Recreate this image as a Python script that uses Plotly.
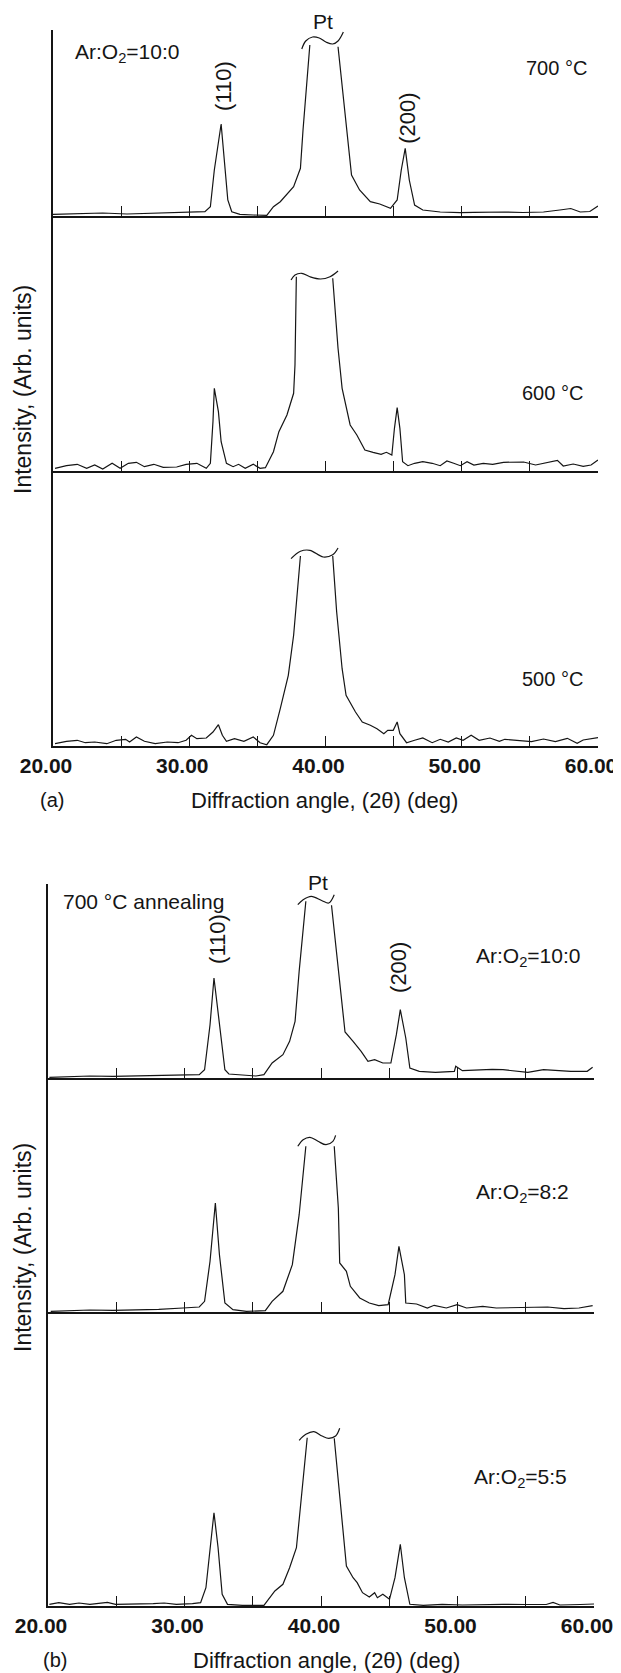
import plotly.graph_objects as go

# The page body adds an 8 px margin, so the figure is 8 px smaller on each axis
# and every reference pixel position is shifted by OFF.
W_FIG, H_FIG, OFF = 613, 1665, 8

# ---------------- data (2-theta in deg, intensity in arb. units) ----------------
# None marks the clipped (broken) top of the off-scale Pt peak.
# Panel (a): Ar:O2 = 10:0, different annealing temperatures
A700_X = [20.0, 21.97, 23.65, 25.43, 27.10, 28.78, 30.26, 31.15, 31.55, 31.84, 32.34, 32.53, 32.83, 33.12,
          33.72, 34.70, 35.69, 36.18, 36.68, 37.66, 38.16, 38.35, 38.85, None, 40.92, 41.31, 41.91, 42.50,
          43.29, 43.98, 44.77, 45.26, 45.56, 45.85, 46.15, 46.54, 47.14, 48.42, 49.90, 50.89, 52.07, 53.16,
          54.5, 56.0, 57.2, 58.0, 58.7, 59.4, 60.0]
A700_I = [1.7, 2.3, 3.0, 2.0, 2.7, 3.0, 3.7, 4.3, 9.3, 46.0, 92.0, 63.0, 16.0, 4.3,
          1.7, 1.0, 0.7, 9.3, 14.3, 29.3, 47.7, 86.0, 171.0, None, 169.3, 119.0, 41.0, 26.0,
          14.3, 12.0, 7.7, 16.0, 46.0, 67.7, 36.0, 11.0, 6.0, 4.0, 3.3, 3.7, 4.0, 4.0,
          3.5, 4.0, 6.0, 7.5, 4.0, 4.5, 10.0]
A700_BRK_X = [38.26, 38.55, 39.05, 39.54, 40.03, 40.53, 40.92, 41.31]
A700_BRK_I = [167.0, 175.0, 179.0, 178.0, 174.0, 172.0, 175.0, 184.0]

A600_X = [20.15, 20.99, 21.78, 22.47, 23.06, 23.65, 24.34, 24.93, 25.53, 26.12, 26.71, 27.40, 28.09, 29.08,
          29.77, 30.56, 31.25, 31.55, 31.74, 31.84, 32.14, 32.34, 32.73, 33.22, 33.62, 34.11, 34.70, 35.20,
          35.59, 36.18, 36.58, 37.17, 37.66, 37.76, 37.86, None, 40.53, 40.92, 41.22, 41.81, 42.30, 42.89,
          43.49, 44.08, 44.47, 44.87, 45.06, 45.26, 45.46, 45.66, 46.05, 46.54, 47.14, 47.83, 48.42, 48.91,
          49.41, 49.90, 50.39, 50.89, 51.58, 52.27, 53.06, 54.54, 55.42, 57.02, 57.45, 58.18, 58.91, 59.49,
          60.0]
A600_I = [2.7, 5.3, 6.7, 2.7, 6.0, 2.0, 7.7, 2.7, 7.7, 8.7, 4.3, 6.7, 3.7, 4.0,
          6.7, 7.7, 2.7, 7.7, 49.3, 82.7, 59.3, 29.3, 7.7, 4.3, 6.7, 2.7, 6.7, 2.7,
          3.3, 19.3, 39.3, 56.0, 77.7, 106.0, 194.3, None, 192.7, 122.7, 82.7, 46.0, 36.0, 21.0,
          18.7, 16.7, 18.7, 16.0, 42.7, 63.3, 42.7, 9.3, 5.3, 7.7, 9.3, 7.7, 5.3, 10.0,
          7.7, 5.3, 9.3, 6.0, 7.7, 6.7, 8.7, 9.0, 6.0, 10.7, 5.0, 7.0, 4.7, 6.0,
          11.0]
A600_BRK_X = [37.47, 37.76, 38.26, 38.85, 39.64, 40.33, 40.92]
A600_BRK_I = [191.0, 196.0, 197.7, 194.3, 192.0, 194.3, 200.0]

A500_X = [20.15, 20.99, 21.78, 22.37, 23.06, 23.95, 24.64, 25.33, 25.62, 26.12, 26.71, 27.50, 28.39, 29.18,
          29.77, 30.16, 30.56, 31.25, 31.74, 32.14, 32.43, 32.73, 33.32, 34.01, 34.70, 35.20, 35.69, 36.18,
          36.68, 37.27, 37.66, 37.86, 38.16, None, 40.53, 40.82, 41.22, 41.51, 42.20, 42.70, 43.29, 43.78,
          44.28, 44.57, 44.97, 45.26, 45.46, 45.95, 46.54, 47.14, 47.83, 48.42, 49.01, 49.60, 50.10, 50.69,
          51.28, 52.07, 52.76, 53.16, 55.12, 56.0, 56.87, 57.75, 58.47, 58.91, 60.0]
A500_I = [2.3, 4.7, 5.7, 3.3, 4.0, 2.3, 5.7, 6.7, 4.0, 9.0, 4.7, 2.3, 4.0, 3.3,
          5.7, 10.7, 7.3, 8.0, 14.0, 21.3, 10.7, 4.7, 7.3, 4.7, 9.0, 3.3, 1.3, 10.7,
          37.3, 70.7, 110.7, 144.0, 190.0, None, 190.0, 134.0, 77.3, 50.7, 34.0, 24.0, 20.7, 17.3,
          12.3, 15.7, 15.7, 24.0, 12.3, 3.3, 5.7, 8.0, 3.3, 6.7, 4.0, 8.0, 5.7, 10.7,
          5.7, 8.0, 4.7, 6.7, 4.3, 7.0, 4.3, 7.7, 2.7, 6.0, 8.3]
A500_BRK_X = [37.47, 38.16, 38.85, 39.83, 40.53, 40.92]
A500_BRK_I = [187.3, 194.7, 195.7, 189.0, 191.3, 198.0]

# Panel (b): 700 degC annealing, different Ar:O2 ratios
B100_X = [20.1, 21.58, 23.07, 24.75, 26.43, 28.11, 29.89, 31.08, 31.47, 31.87, 32.16, 32.56, 32.96, 33.25,
          34.24, 35.23, 35.82, 36.42, 37.21, 37.70, 38.10, 38.40, 38.89, None, 40.77, 41.07, 41.37, 41.76,
          42.35, 42.94, 43.44, 43.93, 44.53, 45.12, 45.52, 45.81, 46.21, 46.51, 47.20, 48.38, 49.77, 49.87,
          50.36, 51.65, 52.54, 53.33, 55.15, 56.3, 57.2, 58.3, 59.5, 59.9]
B100_I = [0.7, 1.3, 2.0, 1.7, 2.0, 2.7, 3.3, 3.3, 8.3, 53.3, 100.0, 53.3, 8.3, 4.0,
          2.7, 2.0, 3.3, 15.0, 23.3, 36.7, 56.7, 106.7, 176.7, None, 172.7, 133.3, 90.0, 46.0,
          36.7, 26.7, 16.7, 18.3, 15.0, 15.0, 43.3, 68.3, 40.0, 10.0, 6.7, 5.7, 6.7, 11.7,
          7.3, 8.0, 8.7, 8.3, 5.7, 8.3, 7.3, 6.7, 6.7, 10.7]
B100_BRK_X = [38.30, 38.69, 39.29, 40.08, 40.57, 40.97]
B100_BRK_I = [173.3, 178.3, 181.7, 177.3, 175.0, 183.3]

B82_X = [20.2, 21.58, 23.07, 24.75, 26.43, 28.11, 29.89, 31.08, 31.47, 31.87, 32.26, 32.56, 32.96, 33.55,
         34.54, 35.23, 35.92, 36.42, 37.21, 37.90, 38.40, 38.89, None, 40.97, 41.27, 41.37, 41.86, 42.15,
         42.84, 43.54, 44.23, 44.92, 45.42, 45.71, 46.11, 46.21, 47.00, 47.79, 48.29, 49.18, 49.97, 50.66,
         51.85, 52.84, 55.4, 56.6, 57.8, 58.9, 59.9]
B82_I = [0.7, 1.3, 2.0, 1.7, 2.0, 2.7, 4.0, 5.0, 10.7, 50.7, 109.0, 57.3, 9.0, 2.3,
         0.7, 1.3, 1.3, 10.7, 20.7, 47.3, 97.3, 165.7, None, 165.7, 104.0, 49.0, 40.7, 25.7,
         14.0, 9.0, 6.3, 7.3, 37.3, 65.7, 37.3, 9.0, 8.0, 4.0, 6.7, 4.0, 7.3, 4.0,
         5.7, 4.0, 5.0, 5.0, 3.3, 4.0, 6.3]
B82_BRK_X = [38.30, 38.69, 39.19, 39.78, 40.37, 40.87, 41.07]
B82_BRK_I = [165.7, 172.3, 174.7, 170.7, 167.3, 170.7, 176.7]

B55_X = [20.1, 20.79, 21.58, 22.27, 23.07, 23.76, 24.35, 24.95, 26.43, 27.71, 28.51, 29.40, 30.58, 31.18,
         31.57, 31.87, 32.16, 32.46, 32.76, 33.15, 34.24, 35.82, 36.22, 36.62, 37.21, 37.70, 38.20, 38.59,
         38.99, None, 40.97, 41.37, 41.86, 42.35, 42.65, 43.04, 43.54, 43.93, 44.13, 44.53, 45.02, 45.42,
         45.81, 46.11, 46.51, 47.49, 48.88, 50.36, 51.85, 53.33, 55.0, 56.5, 57.0, 57.5, 59.0, 60.0]
B55_I = [1.7, 3.3, 1.7, 3.0, 1.7, 3.0, 3.7, 1.7, 1.7, 2.3, 3.0, 1.7, 2.3, 3.3,
         18.3, 58.3, 93.3, 58.3, 11.7, 1.7, 0.7, 0.7, 8.3, 15.0, 21.7, 38.3, 58.3, 111.7,
         168.3, None, 167.7, 111.7, 40.0, 28.3, 23.3, 13.3, 9.0, 13.3, 8.3, 11.7, 6.7, 28.3,
         61.7, 28.3, 1.7, 0.7, 1.7, 1.0, 1.7, 1.7, 1.5, 1.5, 3.5, 1.0, 1.5, 2.0]
B55_BRK_X = [38.40, 38.89, 39.48, 40.08, 40.57, 41.07, 41.37]
B55_BRK_I = [165.7, 171.7, 174.3, 170.0, 167.7, 170.0, 177.7]

TICK_VALS = [20, 25, 30, 35, 40, 45, 50, 55, 60]
TICK_TEXT = ["20.00", " ", "30.00", " ", "40.00", " ", "50.00", " ", "60.00"]
PT_ANGLE = 39.8  # position of the "Pt" label

# ---------------- layout helpers ----------------
INK = "#151515"
FONT = "Liberation Sans, Arial, Helvetica, sans-serif"


def px_x(p):
    return (p - OFF) / W_FIG


def px_y(p):
    return 1 - (p - OFF) / H_FIG


rows = [
    # x, I, break x, break I, top px, bottom px, panel, show tick labels
    (A700_X, A700_I, A700_BRK_X, A700_BRK_I, 30, 216, "a", False),
    (A600_X, A600_I, A600_BRK_X, A600_BRK_I, 216, 471, "a", False),
    (A500_X, A500_I, A500_BRK_X, A500_BRK_I, 471, 746, "a", True),
    (B100_X, B100_I, B100_BRK_X, B100_BRK_I, 884, 1078, "b", False),
    (B82_X, B82_I, B82_BRK_X, B82_BRK_I, 1078, 1312, "b", False),
    (B55_X, B55_I, B55_BRK_X, B55_BRK_I, 1312, 1606, "b", True),
]

fig = go.Figure()
layout = {}
for i, (xs, ys, bx, by, top, bot, panel, labels) in enumerate(rows, start=1):
    sfx = "" if i == 1 else str(i)
    xa, ya = "x" + sfx, "y" + sfx
    fig.add_trace(go.Scatter(x=xs, y=ys, mode="lines", line=dict(color=INK, width=1.2),
                             connectgaps=False, xaxis=xa, yaxis=ya,
                             showlegend=False, hoverinfo="skip"))
    fig.add_trace(go.Scatter(x=bx, y=by, mode="lines", line=dict(color=INK, width=1.2, shape="spline"),
                             xaxis=xa, yaxis=ya, showlegend=False, hoverinfo="skip"))
    xdom = [px_x(53), px_x(598)] if panel == "a" else [px_x(48), px_x(594)]
    layout["xaxis" + sfx] = dict(
        domain=xdom, range=[20, 60], anchor=ya, showline=True, linecolor=INK, linewidth=1.6,
        ticks="inside", ticklen=10, tickwidth=1.3, tickcolor=INK,
        tickvals=TICK_VALS, ticktext=TICK_TEXT, showticklabels=labels,
        tickfont=dict(family=FONT, size=21, color=INK, weight="bold"),
        ticklabelshift=-7, ticklabeloverflow="allow",
        showgrid=False, zeroline=False, fixedrange=True, automargin=False,
    )
    layout["yaxis" + sfx] = dict(
        domain=[px_y(bot), px_y(top)], range=[0, bot - top], anchor=xa, showline=True,
        linecolor=INK, linewidth=1.6, ticks="", showticklabels=False, showgrid=False,
        zeroline=False, fixedrange=True, automargin=False,
    )

ann = []


def paper_text(text, x, y, xanchor="center", size=20, angle=0):
    ann.append(dict(text=text, x=px_x(x), y=px_y(y), xref="paper", yref="paper",
                    xanchor=xanchor, yanchor="middle", showarrow=False, textangle=angle,
                    font=dict(family=FONT, size=size, color=INK)))


def data_text(text, x, y, axis_idx, angle=0, size=22):
    sfx = "" if axis_idx == 1 else str(axis_idx)
    ann.append(dict(text=text, x=x, y=y, xref="x" + sfx, yref="y" + sfx,
                    xanchor="center", yanchor="middle", showarrow=False, textangle=angle,
                    font=dict(family=FONT, size=size, color=INK)))


def peak_top_text(text, x, y_px, axis_idx, size=21):
    sfx = "" if axis_idx == 1 else str(axis_idx)
    ann.append(dict(text=text, x=x, y=px_y(y_px), xref="x" + sfx, yref="paper",
                    xanchor="center", yanchor="middle", showarrow=False,
                    font=dict(family=FONT, size=size, color=INK)))


# panel (a)
paper_text("Ar:O<sub>2</sub>=10:0", 73, 53, xanchor="left", size=21)
paper_text("700 °C", 524, 68, xanchor="left")
paper_text("600 °C", 520, 393, xanchor="left")
paper_text("500 °C", 520, 679, xanchor="left")
peak_top_text("Pt", PT_ANGLE, 22, 1)
data_text("(110)", 32.47, 130, 1, angle=-90)
data_text("(200)", 45.97, 98, 1, angle=-90)
paper_text("(a)", 52, 800, size=20)
paper_text("Diffraction angle, (2θ) (deg)", 324, 800, size=22)
paper_text("Intensity, (Arb. units)", 23, 390, size=23, angle=-90)

# panel (b)
paper_text("700 °C annealing", 61, 901, xanchor="left", size=21)
paper_text("Ar:O<sub>2</sub>=10:0", 474, 957, xanchor="left", size=21)
paper_text("Ar:O<sub>2</sub>=8:2", 474, 1193, xanchor="left", size=21)
paper_text("Ar:O<sub>2</sub>=5:5", 472, 1478, xanchor="left", size=21)
peak_top_text("Pt", PT_ANGLE, 882, 4)
data_text("(110)", 32.45, 139, 4, angle=-90)
data_text("(200)", 45.71, 111, 4, angle=-90)
paper_text("(b)", 55, 1660, size=20)
paper_text("Diffraction angle, (2θ) (deg)", 326, 1660, size=22)
paper_text("Intensity, (Arb. units)", 23, 1248, size=23, angle=-90)

fig.update_layout(
    width=W_FIG, height=H_FIG, margin=dict(l=0, r=0, t=0, b=0, pad=0, autoexpand=False),
    paper_bgcolor="white", plot_bgcolor="white",
    font=dict(family=FONT, color=INK),
    annotations=ann, showlegend=False, **layout,
)

fig.write_html("out.html", config={"responsive": False, "displayModeBar": False})
